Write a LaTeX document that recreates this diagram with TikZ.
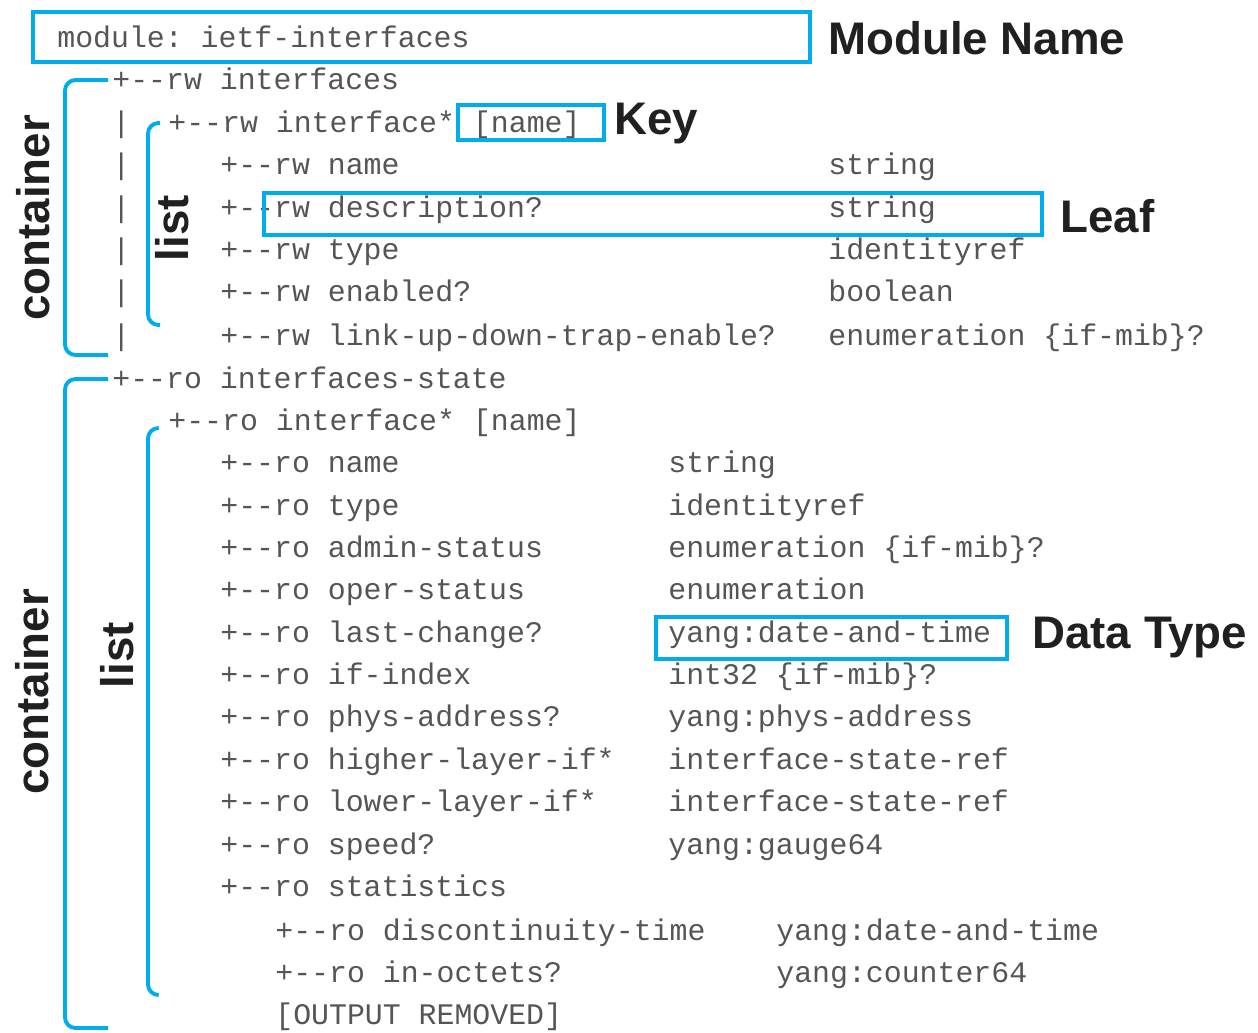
\documentclass[tikz,border=0pt]{standalone}
\usepackage{fontspec}
\setmainfont{Liberation Sans}
\setmonofont{Liberation Mono}
\usetikzlibrary{positioning}
\definecolor{hlblue}{RGB}{0,172,236}
\definecolor{codegray}{RGB}{85,85,85}
\definecolor{lblblack}{RGB}{32,32,32}

\begin{document}
\begin{tikzpicture}[x=0.02cm,y=-0.02cm,
  code/.style={anchor=west,inner sep=0pt,font=\fontsize{17}{17}\selectfont\ttfamily,text=codegray,text height=14pt,text depth=3pt},
  lbl/.style={anchor=west,inner sep=0pt,font=\fontsize{26}{26}\selectfont\bfseries,text=lblblack},
  vlbl/.style={lbl,anchor=center,rotate=90},
  hl/.style={draw=hlblue,line width=2.2pt},
  brk/.style={draw=hlblue,line width=2.2pt,rounded corners=6pt}]
\useasboundingbox (0,0) rectangle (1258,1032);

\node[code] (modline) at (57,38) {module: ietf-interfaces};
\draw[hl] (33,12) rectangle (810,62);
\node[lbl] (lblmod) at (828,38) {Module Name};

\node[code] (ifs) at (112,80) {+--rw interfaces};
\node[code] (bar2) at (112,123) {|};
\node[code] (bar3) at (112,165) {|};
\node[code] (bar4) at (112,208) {|};
\node[code] (bar5) at (112,250) {|};
\node[code] (bar6) at (112,292) {|};
\node[code] (bar7) at (112,336) {|};
\node[code] (ifrw) at (168,123) {+--rw interface* [name]};
\draw[hl] (458,105) rectangle (604,140);
\node[lbl] (lblkey) at (614,124) {Key};
\node[code] (rwname) at (220,165) {+--rw name};
\node[code] (rwdesc) at (220,208) {+--rw description?};
\node[code] (rwtype) at (220,250) {+--rw type};
\node[code] (rwen) at (220,292) {+--rw enabled?};
\node[code] (rwlink) at (220,336) {+--rw link-up-down-trap-enable?};
\node[code] (trwname) at (828,165) {string};
\node[code] (trwdesc) at (828,208) {string};
\node[code] (trwtype) at (828,250) {identityref};
\node[code] (trwen) at (828,292) {boolean};
\node[code] (trwlink) at (828,336) {enumeration \{if-mib\}?};
\draw[hl] (264,193) rectangle (1042,235);
\node[lbl] (lblleaf) at (1060,216) {Leaf};

\node[code] (ifst) at (112,379) {+--ro interfaces-state};
\node[code] (ifro) at (168,421) {+--ro interface* [name]};
\node[code] (roname) at (220,463) {+--ro name};
\node[code] (rotype) at (220,506) {+--ro type};
\node[code] (roadmin) at (220,548) {+--ro admin-status};
\node[code] (rooper) at (220,590) {+--ro oper-status};
\node[code] (rolast) at (220,633) {+--ro last-change?};
\node[code] (roidx) at (220,675) {+--ro if-index};
\node[code] (rophys) at (220,717) {+--ro phys-address?};
\node[code] (rohigh) at (220,760) {+--ro higher-layer-if*};
\node[code] (rolow) at (220,802) {+--ro lower-layer-if*};
\node[code] (rospeed) at (220,845) {+--ro speed?};
\node[code] (rostat) at (220,887) {+--ro statistics};
\node[code] (rodisc) at (275,931) {+--ro discontinuity-time};
\node[code] (roin) at (275,973) {+--ro in-octets?};
\node[code] (removed) at (275,1015) {[OUTPUT REMOVED]};
\node[code] (troname) at (668,463) {string};
\node[code] (trotype) at (668,506) {identityref};
\node[code] (troadmin) at (668,548) {enumeration \{if-mib\}?};
\node[code] (trooper) at (668,590) {enumeration};
\node[code] (trolast) at (668,633) {yang:date-and-time};
\node[code] (troidx) at (668,675) {int32 \{if-mib\}?};
\node[code] (trophys) at (668,717) {yang:phys-address};
\node[code] (trohigh) at (668,760) {interface-state-ref};
\node[code] (trolow) at (668,802) {interface-state-ref};
\node[code] (trospeed) at (668,845) {yang:gauge64};
\node[code] (trodisc) at (776,931) {yang:date-and-time};
\node[code] (troin) at (776,973) {yang:counter64};
\draw[hl] (656,617) rectangle (1007,659);
\node[lbl] (lbldata) at (1032,638) {Data Type};

\coordinate (ctop1) at (108,80);
\coordinate (cbot1) at (108,355);
\coordinate (ltop1) at (160,123);
\coordinate (lbot1) at (160,325);
\coordinate (ctop2) at (108,379);
\coordinate (cbot2) at (108,1028);
\coordinate (ltop2) at (158,428);
\coordinate (lbot2) at (158,995);
\draw[brk] (ctop1) -- ++(-43,0) |- (cbot1);
\draw[brk] (ltop1) -- ++(-12,0) |- (lbot1);
\draw[brk] (ctop2) -- ++(-43,0) |- (cbot2);
\draw[brk] (ltop2) -- ++(-10,0) |- (lbot2);
\node[vlbl] (cont1) at (33,218) {container};
\node[vlbl] (list1) at (172,228) {list};
\node[vlbl] (cont2) at (32,692) {container};
\node[vlbl] (list2) at (117,655) {list};

\end{tikzpicture}
\end{document}
